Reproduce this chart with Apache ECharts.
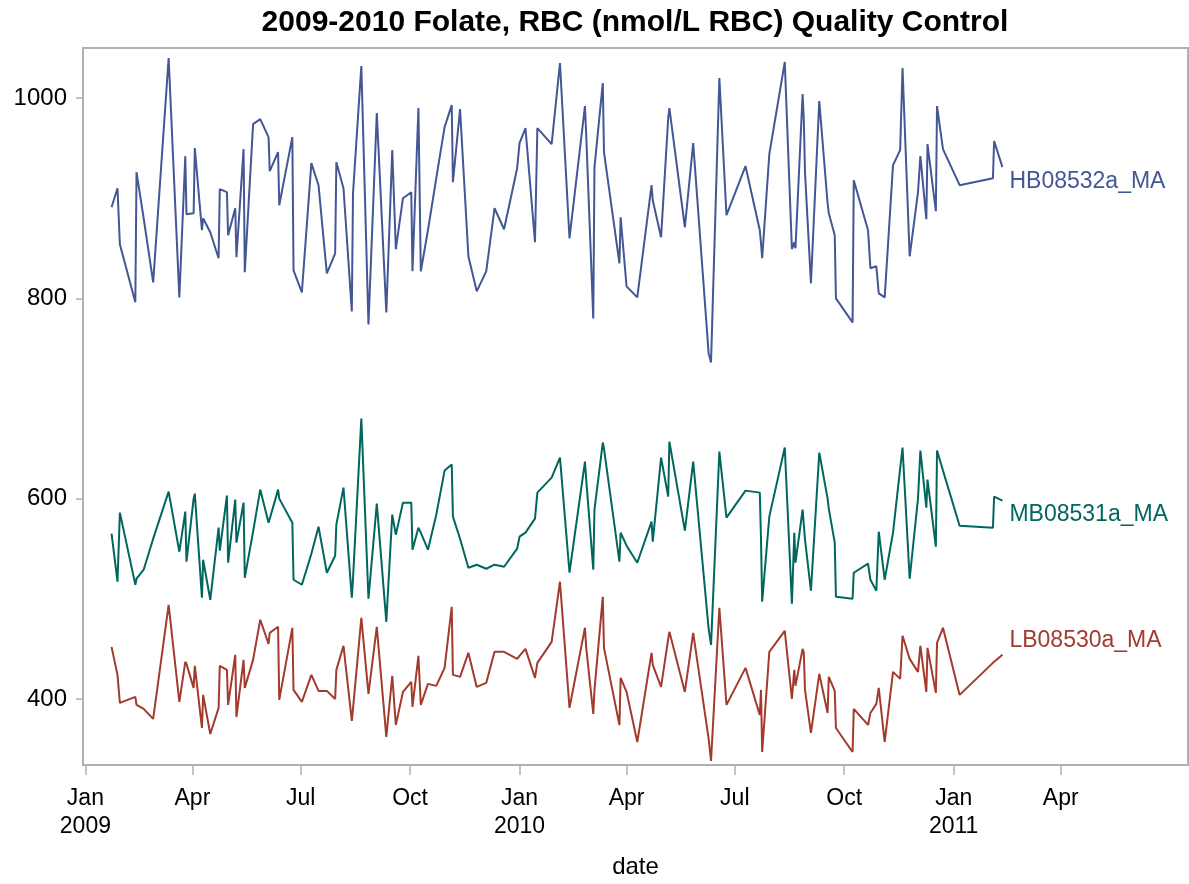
<!DOCTYPE html>
<html>
<head>
<meta charset="utf-8">
<script src="https://cdn.jsdelivr.net/npm/echarts@6/dist/echarts.min.js"></script>
<style>
  html, body { margin: 0; padding: 0; background: #fff; }
  #chart { width: 1189px; height: 884px; }
</style>
</head>
<body>
<div id="chart"></div>
<script>
// run dates shared by the three control pools
const dates = [
  '2009-01-23', '2009-01-28', '2009-01-30', '2009-02-12', '2009-02-13', '2009-02-19', '2009-02-27', '2009-03-12',
  '2009-03-21', '2009-03-26', '2009-03-27', '2009-04-02', '2009-04-03', '2009-04-09', '2009-04-10', '2009-04-16',
  '2009-04-23', '2009-04-24', '2009-04-30', '2009-05-01', '2009-05-07', '2009-05-08', '2009-05-14', '2009-05-15',
  '2009-05-22', '2009-05-28', '2009-06-04', '2009-06-05', '2009-06-12', '2009-06-13', '2009-06-24', '2009-06-25',
  '2009-07-02', '2009-07-10', '2009-07-16', '2009-07-23', '2009-07-30', '2009-07-31', '2009-08-06', '2009-08-13',
  '2009-08-14', '2009-08-21', '2009-08-27', '2009-09-03', '2009-09-11', '2009-09-16', '2009-09-19', '2009-09-25',
  '2009-10-02', '2009-10-03', '2009-10-08', '2009-10-10', '2009-10-16', '2009-10-23', '2009-10-30', '2009-11-05',
  '2009-11-06', '2009-11-12', '2009-11-19', '2009-11-26', '2009-12-04', '2009-12-11', '2009-12-19', '2009-12-30',
  '2010-01-01', '2010-01-06', '2010-01-14', '2010-01-16', '2010-01-28', '2010-02-04', '2010-02-12', '2010-02-25',
  '2010-02-26', '2010-03-04', '2010-03-05', '2010-03-12', '2010-03-13', '2010-03-26', '2010-03-27', '2010-04-01',
  '2010-04-10', '2010-04-22', '2010-04-23', '2010-04-30', '2010-05-06', '2010-05-07', '2010-05-20', '2010-05-27',
  '2010-06-09', '2010-06-11', '2010-06-18', '2010-06-24', '2010-07-10', '2010-07-22', '2010-07-23', '2010-07-24',
  '2010-07-30', '2010-08-12', '2010-08-18', '2010-08-20', '2010-08-21', '2010-08-27', '2010-08-28', '2010-08-29',
  '2010-09-03', '2010-09-10', '2010-09-17', '2010-09-18', '2010-09-23', '2010-09-24', '2010-10-08', '2010-10-09',
  '2010-10-21', '2010-10-23', '2010-10-28', '2010-10-30', '2010-11-04', '2010-11-11', '2010-11-17', '2010-11-19',
  '2010-11-25', '2010-12-02', '2010-12-04', '2010-12-09', '2010-12-10', '2010-12-17', '2010-12-18', '2010-12-23',
  '2011-01-06', '2011-02-03', '2011-02-04', '2011-02-11'
]

const hbValues = [
  891, 910, 854, 796, 926, 880, 816, 1040, 801, 942, 884, 885, 950, 868, 880, 866,
  840, 909, 906, 863, 890, 841, 949, 826, 974, 979, 961, 927, 946, 893, 961, 828,
  806, 935, 913, 825, 845, 936, 910, 787, 905, 1032, 774, 985, 786, 948, 849, 900,
  906, 827, 990, 827, 868, 920, 971, 993, 916, 989, 842, 807, 827, 890, 869, 930,
  955, 970, 856, 970, 954, 1035, 860, 992, 965, 780, 931, 1015, 946, 835, 881, 812,
  801, 913, 898, 861, 980, 990, 871, 955, 745, 736, 1020, 883, 932, 868, 855, 840,
  944, 1036, 849, 856, 850, 1004, 978, 926, 815, 997, 895, 885, 863, 800, 776, 918,
  868, 830, 832, 805, 801, 933, 948, 1030, 842, 906, 942, 879, 954, 887, 992, 949,
  913, 920, 957, 931
]

const mbValues = [
  565, 517, 586, 514, 520, 529, 560, 607, 547, 587, 537, 600, 605, 501, 539, 499,
  571, 548, 603, 536, 599, 556, 596, 521, 567, 609, 576, 580, 609, 600, 576, 519,
  514, 545, 572, 526, 543, 574, 611, 501, 520, 680, 500, 595, 477, 584, 564, 596,
  596, 549, 571, 566, 549, 584, 628, 634, 582, 560, 531, 534, 530, 534, 532, 550,
  562, 566, 580, 606, 621, 641, 526, 637, 620, 529, 589, 656, 650, 537, 566, 553,
  536, 577, 557, 641, 602, 657, 568, 637, 470, 454, 647, 581, 608, 606, 560, 497,
  582, 651, 495, 566, 536, 589, 590, 559, 508, 646, 600, 590, 556, 502, 500, 526,
  535, 519, 508, 567, 519, 566, 630, 651, 520, 600, 648, 591, 619, 552, 648, 628,
  573, 571, 602, 598
]

const lbValues = [
  452, 424, 396, 402, 394, 390, 380, 494, 397, 437, 435, 411, 433, 371, 404, 365,
  391, 433, 429, 394, 444, 382, 439, 411, 439, 479, 455, 466, 472, 399, 471, 409,
  397, 424, 408, 408, 400, 429, 453, 378, 390, 481, 405, 472, 362, 423, 374, 407,
  417, 392, 443, 394, 415, 413, 431, 492, 424, 422, 446, 412, 416, 447, 447, 440,
  443, 450, 421, 436, 457, 517, 391, 471, 452, 385, 409, 502, 451, 374, 421, 407,
  357, 446, 434, 412, 460, 467, 407, 466, 360, 338, 491, 394, 431, 384, 409, 347,
  447, 468, 400, 429, 413, 450, 446, 409, 366, 425, 386, 422, 408, 371, 347, 390,
  374, 386, 395, 411, 357, 427, 420, 463, 440, 427, 453, 407, 451, 406, 456, 471,
  404, 436, 437, 444
]

const yTicks = [400, 600, 800, 1000]
const xTicks = [
  '2009-01-01', '2009-04-01', '2009-07-01', '2009-10-01',
  '2010-01-01', '2010-04-01', '2010-07-01', '2010-10-01',
  '2011-01-01', '2011-04-01'
]
const xRange = ['2008-12-30', '2011-07-17']
const monthNames = ['Jan', 'Feb', 'Mar', 'Apr', 'May', 'Jun', 'Jul', 'Aug', 'Sep', 'Oct', 'Nov', 'Dec']

const font = 'Liberation Sans, Arial, sans-serif'
const toTime = d => new Date(d + 'T00:00:00Z').getTime()
const xTickTimes = xTicks.map(toTime)

function lineSeries(name, values, color, offset) {
  return {
    name: name,
    type: 'line',
    data: dates.map((d, i) => [toTime(d), values[i]]),
    showSymbol: false,
    lineStyle: { color: color, width: 2 },
    itemStyle: { color: color },
    endLabel: {
      show: true,
      formatter: '{a}',
      color: color,
      fontFamily: font,
      fontSize: 23,
      distance: 7,
      offset: offset
    }
  }
}

const chart = echarts.init(document.getElementById('chart'), null, { renderer: 'canvas' })

chart.setOption({
  animation: false,
  backgroundColor: '#fff',
  textStyle: { fontFamily: font },
  title: {
    text: '2009-2010 Folate, RBC (nmol/L RBC) Quality Control',
    left: 630,
    textAlign: 'center',
    top: 3,
    textStyle: { fontFamily: font, fontWeight: 'bold', fontSize: 30, color: '#000' }
  },
  grid: {
    left: 83,
    right: 1,
    top: 48,
    bottom: 119,
    show: true,
    borderColor: '#b0b0b0',
    borderWidth: 2
  },
  xAxis: {
    type: 'value',
    min: toTime(xRange[0]),
    max: toTime(xRange[1]),
    name: 'date',
    nameLocation: 'middle',
    nameGap: 90,
    nameTextStyle: { fontFamily: font, fontSize: 24, color: '#000' },
    axisLine: { show: true, lineStyle: { color: '#b0b0b0', width: 2 } },
    axisTick: { show: true, length: 10, lineStyle: { color: '#b0b0b0', width: 1.5 }, customValues: xTickTimes },
    splitLine: { show: false },
    axisLabel: {
      customValues: xTickTimes,
      margin: 20,
      fontSize: 23,
      lineHeight: 28,
      color: '#000',
      fontFamily: font,
      formatter: function (value) {
        const d = new Date(value)
        const m = d.getUTCMonth()
        return m === 0 ? monthNames[m] + '\n' + d.getUTCFullYear() : monthNames[m]
      }
    }
  },
  yAxis: {
    type: 'value',
    min: 334,
    max: 1050,
    axisLine: { show: true, lineStyle: { color: '#b0b0b0', width: 2 } },
    axisTick: { show: true, length: 7, lineStyle: { color: '#b0b0b0', width: 1.5 }, customValues: yTicks },
    splitLine: { show: false },
    axisLabel: {
      customValues: yTicks,
      margin: 16,
      fontSize: 24,
      color: '#000',
      fontFamily: font,
      formatter: value => String(value)
    }
  },
  series: [
    lineSeries('HB08532a_MA', hbValues, '#445694', [0, 14]),
    lineSeries('MB08531a_MA', mbValues, '#01665e', [0, 14]),
    lineSeries('LB08530a_MA', lbValues, '#a23a2e', [0, -14])
  ]
})
</script>
</body>
</html>
